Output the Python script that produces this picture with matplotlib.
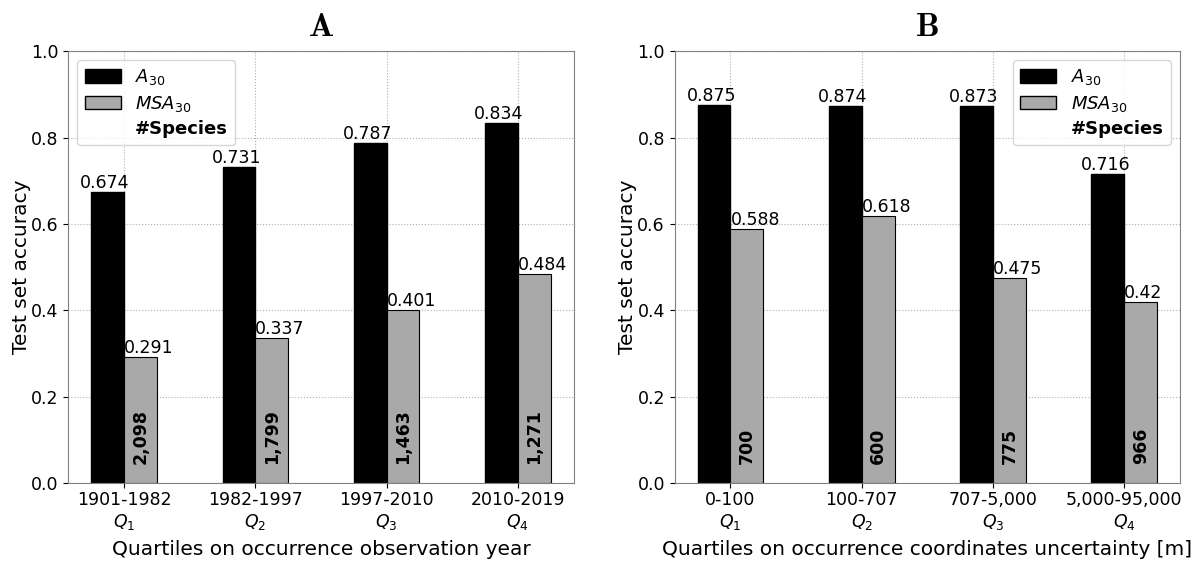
import numpy as np
import matplotlib.pyplot as plt
from matplotlib.patches import Patch

plt.rcParams['mathtext.fontset'] = 'dejavusans'

# panel A : observation year
years = ['1901-1982', '1982-1997', '1997-2010', '2010-2019']
a30_year = [0.674, 0.731, 0.787, 0.834]
msa30_year = [0.291, 0.337, 0.401, 0.484]
species_year = [2098, 1799, 1463, 1271]

# panel B : coordinates uncertainty
uncert = ['0-100', '100-707', '707-5,000', '5,000-95,000']
a30_unc = [0.875, 0.874, 0.873, 0.716]
msa30_unc = [0.588, 0.618, 0.475, 0.42]
species_unc = [700, 600, 775, 966]

w = 0.25


def panel(ax, cats, a30, msa30, species, title, xlabel, loc):
    x = np.arange(len(cats))
    ax.set_axisbelow(True)
    ax.grid(True, linestyle=':', color='#b0b0b0', linewidth=0.8)
    ax.bar(x - w/2, a30, width=w, color='black', edgecolor='black')
    ax.bar(x + w/2, msa30, width=w, color='darkgray', edgecolor='black', linewidth=0.8)
    for xi, v in zip(x, a30):
        ax.text(xi - w/2 - 0.02, v, '{:g}'.format(v), ha='center', va='bottom', fontsize=12.5)
    for xi, v in zip(x, msa30):
        ax.text(xi, v, '{:g}'.format(v), ha='left', va='bottom', fontsize=12.5)
    for xi, s in zip(x, species):
        ax.text(xi + w/2, 0.045, '{:,}'.format(s), rotation=90, ha='center', va='bottom',
                fontsize=12.5, fontweight='bold')
    ax.set_xticks(x)
    ax.set_xticklabels(['{}\n$Q_{}$'.format(c, i + 1) for i, c in enumerate(cats)], fontsize=12.5)
    ax.tick_params(axis='x', pad=2)
    ax.set_ylim(0, 1)
    ax.set_yticks(np.arange(0, 1.01, 0.2))
    ax.tick_params(axis='y', labelsize=12.5)
    ax.set_ylabel('Test set accuracy', fontsize=14.5, labelpad=0)
    ax.set_xlabel(xlabel, fontsize=14.5, labelpad=6)
    ax.set_title(r'$\mathbf{' + title + '}$', fontsize=24, pad=11, math_fontfamily='cm')
    for sp in ax.spines.values():
        sp.set_color('gray')
    handles = [Patch(facecolor='black', edgecolor='black'),
               Patch(facecolor='darkgray', edgecolor='black'),
               Patch(facecolor='none', edgecolor='none')]
    labels = ['$A_{30}$', '$MSA_{30}$', '#Species']
    leg = ax.legend(handles, labels, loc=loc, fontsize=13, handleheight=0.8, labelspacing=0.35)
    leg.get_texts()[2].set_fontweight('bold')


fig, axs = plt.subplots(1, 2, figsize=(11.98, 5.63), dpi=100)
plt.subplots_adjust(left=0.057, right=0.985, bottom=0.142, top=0.909, wspace=0.2)

panel(axs[0], years, a30_year, msa30_year, species_year, 'A',
      'Quartiles on occurrence observation year', 'upper left')
panel(axs[1], uncert, a30_unc, msa30_unc, species_unc, 'B',
      'Quartiles on occurrence coordinates uncertainty [m]', 'upper right')

plt.savefig('out.png', dpi=100)
